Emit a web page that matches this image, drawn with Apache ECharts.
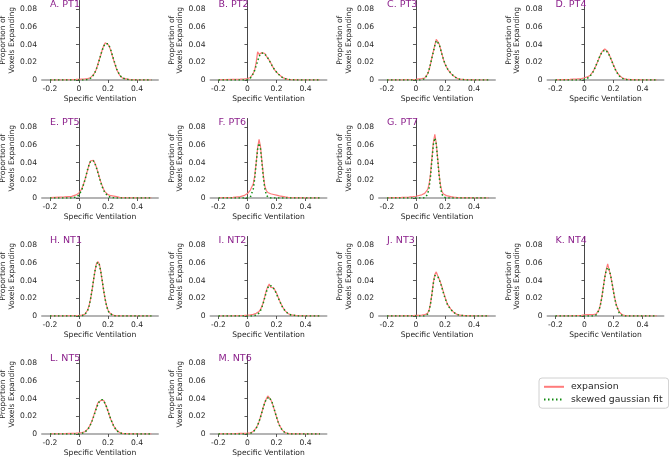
<!DOCTYPE html>
<html>
<head>
<meta charset="utf-8">
<script src="https://cdn.jsdelivr.net/npm/echarts@6/dist/echarts.min.js"></script>
<style>html,body{margin:0;padding:0;background:#fff}#c{width:669px;height:458px}</style>
</head>
<body>
<div id="c"></div>
<script>
// Shared x positions (Specific Ventilation)
const xs = [-0.2,-0.1,-0.05,-0.02,0,0.02,0.04,0.05,0.06,0.07,0.08,0.09,0.10,0.11,0.12,0.13,0.14,0.15,0.16,0.17,0.18,0.19,0.20,0.21,0.22,0.24,0.26,0.28,0.30,0.35,0.4,0.5];
const xTicks = [-0.2, 0, 0.2, 0.4];
const xTickLabels = ["-0.2", "0", "0.2", "0.4"];
const yTicks = [0, 0.02, 0.04, 0.06, 0.08];
const yTickLabels = ["0", "0.02", "0.04", "0.06", "0.08"];
const panelTitles = ["A. PT1","B. PT2","C. PT3","D. PT4","E. PT5","F. PT6","G. PT7","H. NT1","I. NT2","J. NT3","K. NT4","L. NT5","M. NT6"];
const seriesNames = ["expansion", "skewed gaussian fit"];
const xLabel = "Specific Ventilation";
const yLabel = "Proportion of\nVoxels Expanding";

const expPT1 = [0,0.0002,0.0004,0.0006,0.0008,0.0010,0.0012,0.0013,0.0015,0.0018,0.0026,0.0040,0.0060,0.0088,0.0122,0.0175,0.0230,0.0280,0.0340,0.0385,0.0420,0.0425,0.0405,0.0375,0.0330,0.0220,0.0120,0.0055,0.0022,0.0004,0.0001,0];
const fitPT1 = [0,0,0,0,0,0,0.0001,0.0003,0.0006,0.0012,0.0021,0.0036,0.0057,0.0086,0.0125,0.0172,0.0227,0.0283,0.0336,0.038,0.041,0.042,0.041,0.038,0.0336,0.0227,0.0125,0.0057,0.0021,0.0001,0,0];
const expPT2 = [0.0003,0.0008,0.001,0.0012,0.0015,0.0028,0.0075,0.0115,0.0200,0.0320,0.0290,0.0290,0.0310,0.0312,0.0300,0.0270,0.0252,0.0225,0.0195,0.0160,0.0135,0.0108,0.0088,0.0072,0.0056,0.0032,0.0016,0.0008,0.0004,0.0001,0,0];
const fitPT2 = [0,0,0,0.0001,0.0005,0.0023,0.0072,0.0112,0.0162,0.0215,0.0264,0.0298,0.031,0.0306,0.0293,0.0274,0.0250,0.0222,0.0192,0.0162,0.0134,0.0110,0.009,0.007,0.0055,0.003,0.0014,0.0006,0.0002,0,0,0];
const expPT3 = [0,0.0001,0.0003,0.0005,0.0008,0.0012,0.0015,0.0018,0.0022,0.0035,0.0068,0.0112,0.0178,0.0255,0.0325,0.0395,0.046,0.0435,0.041,0.035,0.029,0.0228,0.0182,0.015,0.0118,0.0075,0.0044,0.0022,0.001,0.0003,0.0001,0];
const fitPT3 = [0,0,0,0,0,0,0.0002,0.0006,0.0014,0.0032,0.0065,0.0115,0.018,0.025,0.032,0.039,0.0445,0.0445,0.0405,0.0345,0.0285,0.023,0.0185,0.0148,0.012,0.0078,0.0045,0.0022,0.0009,0.0001,0,0];
const expPT4 = [0.0002,0.0008,0.0012,0.0016,0.0025,0.0035,0.0055,0.0072,0.0098,0.013,0.0168,0.0205,0.0245,0.0282,0.0318,0.0325,0.0352,0.0330,0.0322,0.0288,0.0250,0.0210,0.0170,0.0132,0.0098,0.0052,0.0026,0.0012,0.0006,0.0002,0.0001,0];
const fitPT4 = [0,0,0,0.0002,0.0007,0.0019,0.0046,0.0067,0.0094,0.0128,0.0166,0.0206,0.0247,0.0284,0.0314,0.0333,0.034,0.0333,0.0314,0.0284,0.0247,0.0206,0.0166,0.0128,0.0094,0.0046,0.0019,0.0007,0.0002,0,0,0];
const expPT5 = [0.0005,0.0012,0.0018,0.0035,0.0058,0.0105,0.0200,0.0258,0.0320,0.0378,0.0420,0.0440,0.0425,0.0392,0.0350,0.0295,0.0240,0.0185,0.0140,0.0100,0.0070,0.0050,0.0038,0.0030,0.0026,0.0022,0.0015,0.0008,0.0005,0.0002,0.0001,0];
const fitPT5 = [0,0,0.0001,0.001,0.0034,0.0093,0.0197,0.0261,0.0325,0.038,0.0417,0.043,0.042,0.039,0.0344,0.029,0.0232,0.0177,0.0128,0.0088,0.0058,0.0037,0.0022,0.0012,0.0007,0.0002,0,0,0,0,0,0];
const expPT6 = [0.0003,0.0008,0.0015,0.003,0.005,0.009,0.016,0.025,0.040,0.057,0.0665,0.058,0.041,0.025,0.013,0.0085,0.0062,0.0052,0.0048,0.0044,0.004,0.0036,0.0032,0.0028,0.0024,0.0018,0.0012,0.0008,0.0005,0.0002,0.0001,0];
const fitPT6 = [0,0,0,0.0001,0.0003,0.001,0.0102,0.0223,0.0394,0.0554,0.062,0.0554,0.0394,0.0223,0.0102,0.0037,0.001,0.0002,0,0,0,0,0,0,0,0,0,0,0,0,0,0];
const expPT7 = [0.0002,0.0006,0.001,0.0015,0.002,0.0028,0.0036,0.0042,0.0052,0.0068,0.0095,0.0150,0.0270,0.0450,0.0630,0.0720,0.0620,0.0440,0.0260,0.0135,0.0070,0.0045,0.0034,0.0027,0.0022,0.0015,0.001,0.0006,0.0004,0.0002,0.0001,0];
const fitPT7 = [0,0,0,0,0,0,0,0.0001,0.0003,0.0012,0.004,0.0112,0.0245,0.0432,0.0607,0.068,0.0607,0.0432,0.0245,0.0112,0.004,0.0012,0.0003,0.0001,0,0,0,0,0,0,0,0];
const expNT1 = [0,0.0001,0.0003,0.0005,0.0007,0.001,0.0018,0.0035,0.0068,0.012,0.0195,0.0290,0.0400,0.0505,0.0590,0.0615,0.0590,0.0510,0.0400,0.0290,0.0195,0.0120,0.0068,0.0036,0.0018,0.0006,0.0002,0.0001,0,0,0,0];
const fitNT1 = [0,0,0,0,0,0.0002,0.0015,0.0032,0.0064,0.0116,0.0193,0.0293,0.0404,0.0508,0.0583,0.061,0.0583,0.0508,0.0404,0.0293,0.0193,0.0116,0.0064,0.0032,0.0015,0.0002,0,0,0,0,0,0];
const expNT2 = [0,0.0002,0.0004,0.0006,0.0008,0.0012,0.0018,0.0022,0.0030,0.0040,0.0052,0.0075,0.0110,0.0160,0.0225,0.0290,0.0330,0.0362,0.0325,0.0345,0.0320,0.0300,0.0262,0.0220,0.0178,0.0108,0.0058,0.0028,0.0012,0.0003,0.0001,0];
const fitNT2 = [0,0,0,0,0,0,0.0002,0.0004,0.0009,0.0018,0.0035,0.0062,0.0102,0.0153,0.0212,0.0272,0.0319,0.0347,0.0349,0.0337,0.0315,0.0286,0.025,0.0212,0.0175,0.0105,0.0056,0.0027,0.0011,0.0001,0,0];
const expNT3 = [0,0.0001,0.0002,0.0004,0.0006,0.0008,0.0010,0.0012,0.0015,0.0018,0.0030,0.0065,0.0140,0.0250,0.0380,0.0470,0.0500,0.0455,0.0420,0.0375,0.0325,0.0268,0.0215,0.0165,0.0125,0.0078,0.0042,0.0021,0.0009,0.0002,0.0001,0];
const fitNT3 = [0,0,0,0,0,0,0,0,0.0001,0.0006,0.0021,0.0058,0.0133,0.0246,0.0371,0.0458,0.0468,0.045,0.0415,0.0368,0.0314,0.0257,0.0205,0.0158,0.012,0.0075,0.004,0.002,0.0008,0.0001,0,0];
const expNT4 = [0,0.0002,0.0004,0.0008,0.0012,0.0015,0.0016,0.0016,0.0017,0.0018,0.0022,0.0038,0.0070,0.0130,0.0218,0.0330,0.0440,0.0525,0.0590,0.0520,0.0460,0.0375,0.0280,0.0195,0.0125,0.0045,0.0014,0.0005,0.0002,0,0,0];
const fitNT4 = [0,0,0,0,0,0,0,0,0.0001,0.0005,0.0012,0.003,0.0064,0.0125,0.0212,0.0323,0.0433,0.0518,0.055,0.0527,0.0462,0.0372,0.0275,0.0187,0.0117,0.0035,0.0007,0.0001,0,0,0,0];
const expNT5 = [0.0002,0.0005,0.0008,0.001,0.0012,0.0015,0.0025,0.0036,0.0055,0.008,0.0112,0.0150,0.0200,0.0250,0.0300,0.0352,0.0335,0.0380,0.0392,0.0382,0.0345,0.0305,0.0260,0.0210,0.0165,0.0090,0.0042,0.0016,0.0007,0.0002,0.0001,0];
const fitNT5 = [0,0,0,0,0.0002,0.0007,0.002,0.0032,0.0051,0.0075,0.0108,0.0147,0.0193,0.0241,0.029,0.0333,0.0366,0.0386,0.039,0.0376,0.0348,0.0308,0.0261,0.0212,0.0164,0.0087,0.0039,0.0014,0.0005,0,0,0];
const expNT6 = [0.0001,0.0003,0.0006,0.0008,0.001,0.0013,0.0028,0.0044,0.0068,0.0100,0.0140,0.0195,0.0250,0.0310,0.0360,0.0400,0.0430,0.0415,0.0392,0.0352,0.0302,0.0248,0.0195,0.0145,0.0100,0.0044,0.0016,0.0006,0.0002,0.0001,0,0];
const fitNT6 = [0,0,0,0,0.0002,0.0007,0.0024,0.0041,0.0065,0.0098,0.0141,0.0192,0.0249,0.0306,0.0357,0.0396,0.0418,0.0418,0.0396,0.0357,0.0306,0.0249,0.0192,0.0141,0.0098,0.0041,0.0014,0.0004,0.0001,0,0,0];

const expansion = [expPT1,expPT2,expPT3,expPT4,expPT5,expPT6,expPT7,expNT1,expNT2,expNT3,expNT4,expNT5,expNT6];
const fits = [fitPT1,fitPT2,fitPT3,fitPT4,fitPT5,fitPT6,fitPT7,fitNT1,fitNT2,fitNT3,fitNT4,fitNT5,fitNT6];

// Layout (panel row/col placement)
const panelPos = [[0,0],[0,1],[0,2],[0,3],[1,0],[1,1],[1,2],[2,0],[2,1],[2,2],[2,3],[3,0],[3,1]];
const colLeft = [42, 210.5, 379, 547.5];
const rowZero = [80, 198, 316, 434];
const plotW = 116, plotH = 79.5;
const FONT = 'DejaVu Sans';
const TXT = '#262626';

function lab(ticks, labels) {
  return function (v) {
    for (let i = 0; i < ticks.length; i++) if (Math.abs(v - ticks[i]) < 1e-9) return labels[i];
    return '';
  };
}

const grid = [], xAxis = [], yAxis = [], series = [], title = [];
panelPos.forEach(function (p, i) {
  const left = colLeft[p[1]], top = rowZero[p[0]] - plotH;
  grid.push({left: left, top: top, width: plotW, height: plotH, outerBoundsMode: 'none', containLabel: false});
  xAxis.push({
    type: 'value', gridIndex: i, min: -0.255, max: 0.545,
    name: xLabel, nameLocation: 'middle', nameGap: 15,
    nameTextStyle: {fontFamily: FONT, fontSize: 7.6, color: TXT},
    axisLine: {show: true, onZero: false, lineStyle: {color: '#b4b4b4', width: 2}},
    axisTick: {show: true, length: 3, customValues: xTicks, lineStyle: {color: '#333', width: 0.8}},
    axisLabel: {customValues: xTicks, formatter: lab(xTicks, xTickLabels), margin: 5, fontFamily: FONT, fontSize: 7.6, color: TXT},
    splitLine: {show: false}
  });
  yAxis.push({
    type: 'value', gridIndex: i, min: 0, max: 0.09,
    name: yLabel, nameLocation: 'middle', nameGap: 26, nameRotate: 90,
    nameTextStyle: {fontFamily: FONT, fontSize: 7.6, color: TXT, lineHeight: 8.5},
    axisLine: {show: true, lineStyle: {color: '#333', width: 0.9}},
    axisTick: {show: true, length: 3, customValues: yTicks, lineStyle: {color: '#333', width: 0.8}},
    axisLabel: {customValues: yTicks, formatter: lab(yTicks, yTickLabels), margin: 5, fontFamily: FONT, fontSize: 7.6, color: TXT},
    splitLine: {show: false}
  });
  series.push({
    name: seriesNames[0], type: 'line', xAxisIndex: i, yAxisIndex: i,
    data: xs.map(function (x, k) { return [x, expansion[i][k]]; }),
    symbol: 'none', showSymbol: false, silent: true,
    lineStyle: {color: '#ff7b7b', width: 1.2}, itemStyle: {color: '#ff7b7b'}, z: 2
  });
  series.push({
    name: seriesNames[1], type: 'line', xAxisIndex: i, yAxisIndex: i,
    data: xs.map(function (x, k) { return [x, fits[i][k]]; }),
    symbol: 'none', showSymbol: false, silent: true,
    lineStyle: {color: '#108a10', width: 1.5, type: [1.5, 2.5]}, itemStyle: {color: '#108a10'}, z: 3
  });
  title.push({
    text: panelTitles[i], left: left + 8, top: top - 1, padding: 0,
    textStyle: {fontFamily: FONT, fontSize: 9.5, fontWeight: 'normal', color: '#8b1f8b'}
  });
});

const chart = echarts.init(document.getElementById('c'), null, {renderer: 'canvas'});
chart.setOption({
  animation: false,
  backgroundColor: '#fff',
  title: title,
  grid: grid, xAxis: xAxis, yAxis: yAxis, series: series,
  legend: {
    data: seriesNames, orient: 'vertical', left: 539, top: 378,
    itemWidth: 20, itemHeight: 12, itemGap: 3,
    padding: [4, 6, 4, 4],
    itemStyle: {opacity: 0, borderWidth: 0},
    borderColor: '#d0d0d0', borderWidth: 1, borderRadius: 3, backgroundColor: '#fff',
    textStyle: {fontFamily: FONT, fontSize: 9.3, color: TXT, padding: [0, 0, 0, 2]}
  }
});
</script>
</body>
</html>
